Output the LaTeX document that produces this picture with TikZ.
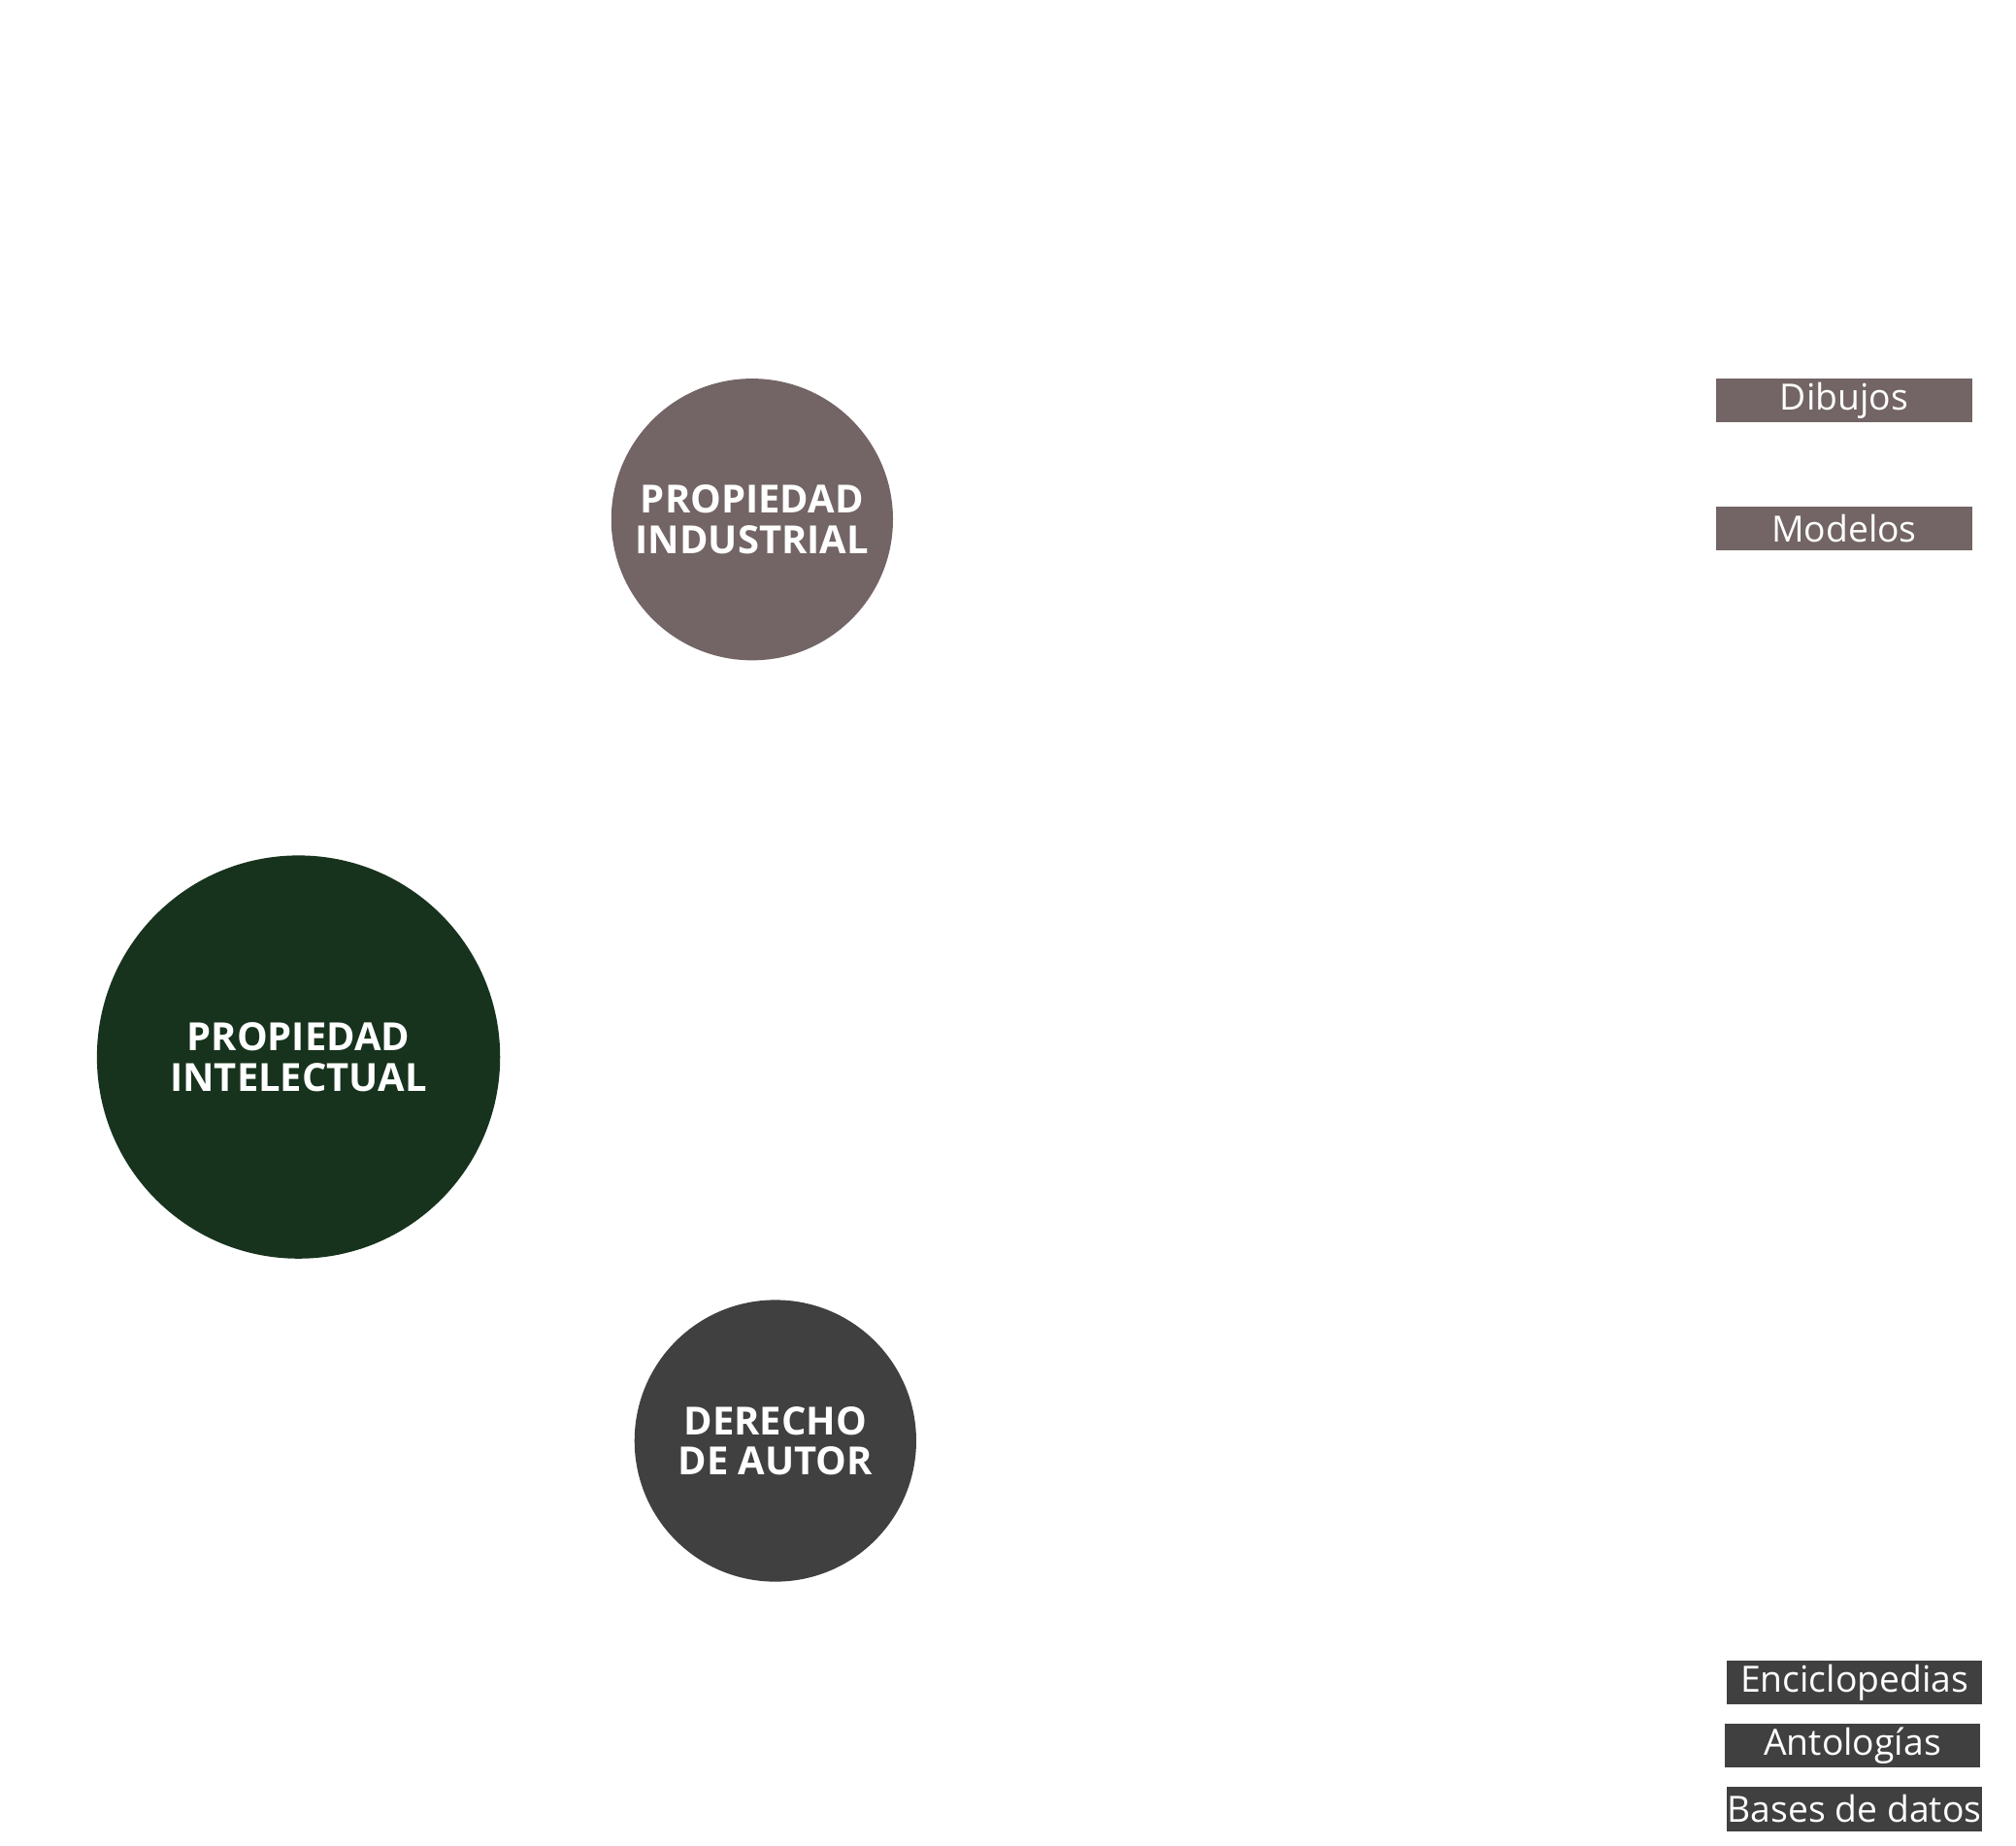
\documentclass[tikz,border=0pt]{standalone}
\usepackage{fontspec}
\setmainfont{Open Sans}
\definecolor{pi}{HTML}{17331D}
\definecolor{pind}{HTML}{736565}
\definecolor{da}{HTML}{404040}
\begin{document}
\begin{tikzpicture}[x=0.5pt,y=-0.5pt,
  circ/.style={circle,inner sep=0pt,text=white,font=\bfseries\fontsize{15}{15.5}\selectfont,align=center},
  box/.style={rectangle,inner sep=0pt,minimum width=99pt,minimum height=17pt,text=white,font=\fontsize{14}{14}\selectfont}]
\useasboundingbox[fill=white] (0,0) rectangle (1560,1428);
\node[circ,fill=pi,minimum size=312*0.5pt] (pi) at (231,818) {PROPIEDAD\\INTELECTUAL};
\node[circ,fill=pind,minimum size=218*0.5pt] (pind) at (582,402) {PROPIEDAD\\INDUSTRIAL};
\node[circ,fill=da,minimum size=218*0.5pt] (da) at (600,1115) {DERECHO\\DE AUTOR};
\node[box,fill=pind] (dib) at (1427,310) {Dibujos};
\node[box,fill=pind] (mod) at (1427,409) {Modelos};
\node[box,fill=da] (enc) at (1435,1302) {Enciclopedias};
\node[box,fill=da] (ant) at (1433.5,1351) {Antologías};
\node[box,fill=da] (bas) at (1435,1400) {Bases de datos};
\end{tikzpicture}
\end{document}
